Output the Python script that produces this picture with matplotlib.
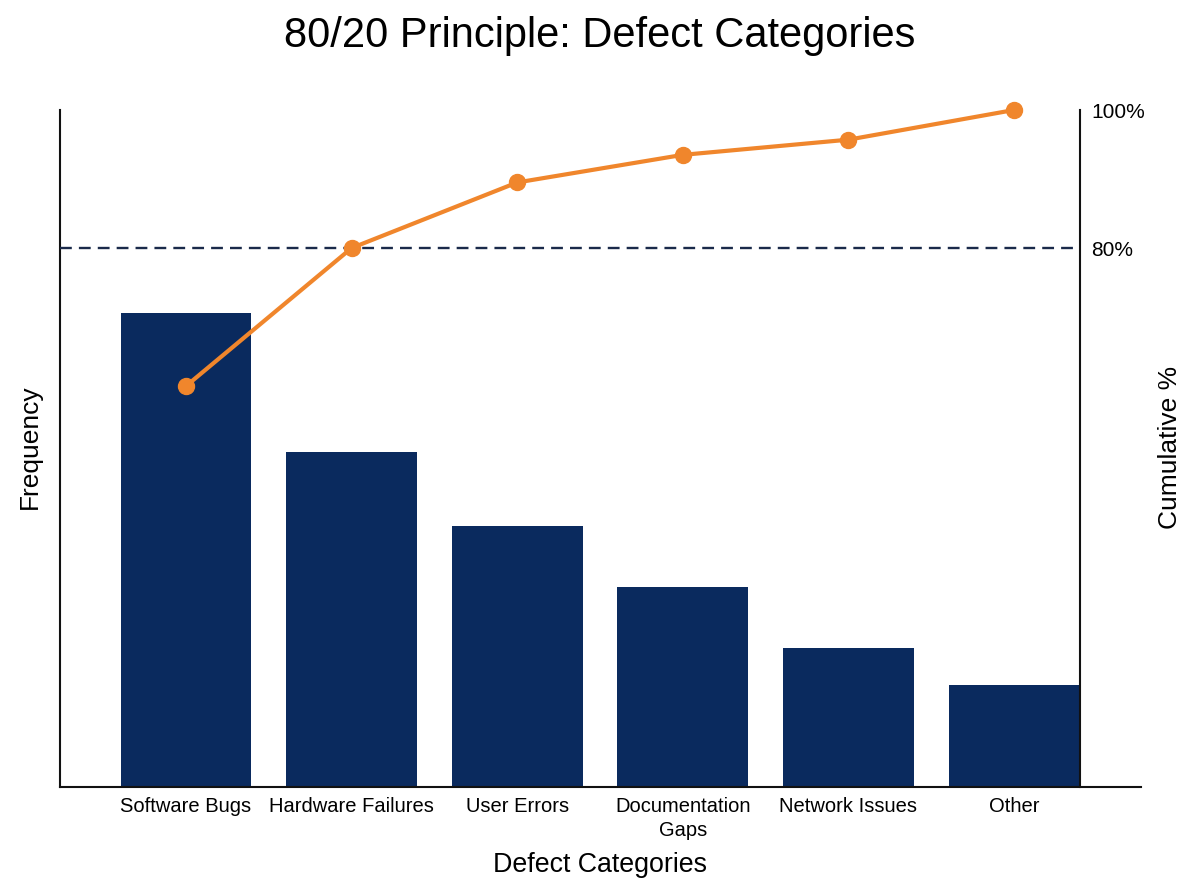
import matplotlib
matplotlib.use("Agg")
import matplotlib.pyplot as plt

categories = ["Software Bugs", "Hardware Failures", "User Errors",
              "Documentation\nGaps", "Network Issues", "Other"]
frequency = [140, 99, 77, 59, 41, 30]
cumulative_pct = [60, 80, 89.5, 93.5, 95.7, 100]
right_ticks = [80, 100]
right_tick_labels = ["80%", "100%"]

plt.rcParams['font.family'] = ['Liberation Sans', 'DejaVu Sans']

W, H = 1200, 896
fig = plt.figure(figsize=(W / 100, H / 100), dpi=100)
ax_l, ax_r, ax_t, ax_b = 60, 1141, 110, 787
ax = fig.add_axes([ax_l / W, 1 - ax_b / H, (ax_r - ax_l) / W, (ax_b - ax_t) / H])

navy = "#0a2a5e"
orange = "#f0862c"

x = list(range(len(categories)))
ax.bar(x, frequency, width=0.79, color=navy, zorder=2)
ax.set_xlim(-0.761, 5.767)
ax.set_ylim(0, 200)
ax.set_xticks(x)
ax.set_xticklabels(categories, fontsize=14.5, linespacing=1.35)
ax.set_yticks([])
ax.tick_params(axis='x', length=0, pad=7)
for s in ["top", "right"]:
    ax.spines[s].set_visible(False)
for s in ["left", "bottom"]:
    ax.spines[s].set_linewidth(1.5)
    ax.spines[s].set_color("#111111")

spine_frac = (1080 - ax_l) / (ax_r - ax_l)

ax2 = ax.twinx()
ax2.set_ylim(1.9, 100)
ax2.plot(x, cumulative_pct, color=orange, lw=3, marker='o', markersize=11.5,
         zorder=4, clip_on=False)
ax2.axhline(80, xmin=0, xmax=spine_frac, color="#1a2a4a", lw=1.7,
            linestyle=(0, (5, 3.0)), zorder=3)
for s in ["top", "left", "bottom"]:
    ax2.spines[s].set_visible(False)
ax2.spines["right"].set_position(("axes", spine_frac))
ax2.spines["right"].set_linewidth(1.5)
ax2.spines["right"].set_color("#111111")
ax2.set_yticks(right_ticks)
ax2.set_yticklabels(right_tick_labels, fontsize=15)
ax2.tick_params(axis='y', length=0, pad=8)

fig.text(0.5, 1 - 36 / H, "80/20 Principle: Defect Categories",
         ha='center', va='center', fontsize=30)
fig.text(0.5, 1 - 865 / H, "Defect Categories", ha='center', va='center', fontsize=19.3)
fig.text(30 / W, 1 - 447 / H, "Frequency", ha='center', va='center',
         rotation=90, fontsize=19)
fig.text(1170 / W, 1 - 447 / H, "Cumulative %", ha='center', va='center',
         rotation=90, fontsize=19)

fig.savefig("out.png", dpi=100)
